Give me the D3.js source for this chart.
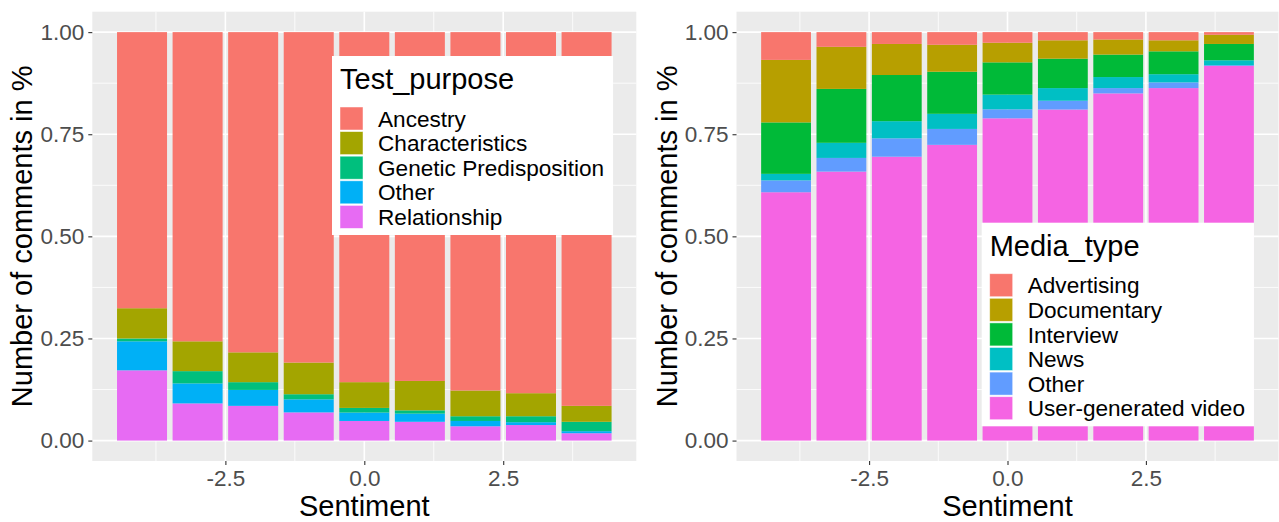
<!DOCTYPE html>
<html>
<head>
<meta charset="utf-8">
<script src="https://cdn.jsdelivr.net/npm/d3@7"></script>
<style>
  body { margin: 0; background: #fff; }
  svg { display: block; font-family: "Liberation Sans", Arial, sans-serif; }
</style>
</head>
<body>
<svg id="chart" width="1279" height="522"></svg>
<script>
// sentiment scores on the x axis
const sentiment = [-4, -3, -2, -1, 0, 1, 2, 3, 4]

// left panel: share of comments per test purpose
const testPurposes = ['Ancestry', 'Characteristics', 'Genetic Predisposition', 'Other', 'Relationship']
const tpAncestry = [0.676, 0.757, 0.784, 0.809, 0.857, 0.854, 0.8775, 0.884, 0.915]
const tpCharacteristics = [0.074, 0.073, 0.073, 0.0775, 0.063, 0.072, 0.063, 0.0564, 0.039]
const tpGenetic = [0.007, 0.030, 0.019, 0.0125, 0.0114, 0.008, 0.0116, 0.0146, 0.023]
const tpOther = [0.071, 0.049, 0.039, 0.032, 0.0206, 0.020, 0.013, 0.007, 0.005]
const tpRelationship = [0.172, 0.091, 0.085, 0.069, 0.048, 0.046, 0.035, 0.038, 0.018]
const tpColors = ['#F8766D', '#A3A500', '#00BF7D', '#00B0F6', '#E76BF3']

// right panel: share of comments per media type
const mediaTypes = ['Advertising', 'Documentary', 'Interview', 'News', 'Other', 'User-generated video']
const mtAdvertising = [0.068, 0.036, 0.029, 0.031, 0.026, 0.020, 0.018, 0.020, 0.0065]
const mtDocumentary = [0.153, 0.103, 0.076, 0.066, 0.048, 0.045, 0.037, 0.027, 0.0225]
const mtInterview = [0.126, 0.132, 0.113, 0.103, 0.079, 0.072, 0.055, 0.056, 0.040]
const mtNews = [0.016, 0.037, 0.042, 0.037, 0.036, 0.031, 0.027, 0.020, 0.012]
const mtOther = [0.029, 0.0335, 0.045, 0.039, 0.022, 0.0215, 0.013, 0.014, 0.002]
const mtUser = [0.608, 0.6585, 0.695, 0.724, 0.789, 0.8105, 0.850, 0.863, 0.918]
const mtColors = ['#F8766D', '#B79F00', '#00BA38', '#00BFC4', '#619CFF', '#F564E3']

// axis ticks
const yTicks = [0, 0.25, 0.5, 0.75, 1]
const yMinor = [0.125, 0.375, 0.625, 0.875]
const xTicks = [-2.5, 0, 2.5]
const xMinor = [-3.75, -1.25, 1.25, 3.75]

const svg = d3.select('#chart')

// build rows like position = "fill" in ggplot
function makeRows (keys, series) {
    return sentiment.map((s, i) => {
        const row = { sentiment: s }
        const total = d3.sum(series, arr => arr[i])
        keys.forEach((k, j) => { row[k] = series[j][i] / total })
        return row
    })
}

function drawPanel (opts) {
    const { left, right, top, bottom, keys, colors, rows, legendTitle, legendX, legendY } = opts
    const g = svg.append('g')

    const x = d3.scaleLinear().domain([-4.895, 4.895]).range([left, right])
    const y = d3.scaleLinear().domain([-0.05, 1.05]).range([bottom, top])
    const color = d3.scaleOrdinal().domain(keys).range(colors)

    // panel background + grid
    g.append('rect')
        .attr('x', left).attr('y', top)
        .attr('width', right - left).attr('height', bottom - top)
        .attr('fill', '#EBEBEB')

    g.selectAll('line.ymin').data(yMinor).join('line')
        .attr('x1', left).attr('x2', right)
        .attr('y1', d => y(d)).attr('y2', d => y(d))
        .attr('stroke', '#fff').attr('stroke-width', 0.8)
    g.selectAll('line.xmin').data(xMinor).join('line')
        .attr('y1', top).attr('y2', bottom)
        .attr('x1', d => x(d)).attr('x2', d => x(d))
        .attr('stroke', '#fff').attr('stroke-width', 0.8)
    g.selectAll('line.ymaj').data(yTicks).join('line')
        .attr('x1', left).attr('x2', right)
        .attr('y1', d => y(d)).attr('y2', d => y(d))
        .attr('stroke', '#fff').attr('stroke-width', 1.6)
    g.selectAll('line.xmaj').data(xTicks).join('line')
        .attr('y1', top).attr('y2', bottom)
        .attr('x1', d => x(d)).attr('x2', d => x(d))
        .attr('stroke', '#fff').attr('stroke-width', 1.6)

    // stacked bars, first level on top
    const stack = d3.stack().keys(keys.slice().reverse())
    const barW = x(0.45) - x(-0.45)
    g.selectAll('g.layer')
        .data(stack(rows))
        .join('g')
            .attr('fill', d => color(d.key))
        .selectAll('rect')
        .data(d => d)
        .join('rect')
            .attr('x', d => x(d.data.sentiment) - barW / 2)
            .attr('width', barW)
            .attr('y', d => y(d[1]))
            .attr('height', d => y(d[0]) - y(d[1]))

    // axes
    const yAxis = g.append('g')
        .attr('transform', `translate(${left},0)`)
        .call(d3.axisLeft(y).tickValues(yTicks).tickFormat(d3.format('.2f')).tickSize(4).tickPadding(4))
    const xAxis = g.append('g')
        .attr('transform', `translate(0,${bottom})`)
        .call(d3.axisBottom(x).tickValues(xTicks).tickFormat(d => d.toFixed(1)).tickSize(4).tickPadding(5))
    for (const ax of [yAxis, xAxis]) {
        ax.select('.domain').remove()
        ax.selectAll('line').attr('stroke', '#333333').attr('stroke-width', 1.1)
        ax.selectAll('text').attr('fill', '#4D4D4D').attr('font-size', 22.5)
            .attr('font-family', '"Liberation Sans", Arial, sans-serif')
    }

    // axis titles
    g.append('text')
        .attr('transform', `translate(${left - 60},${(top + bottom) / 2}) rotate(-90)`)
        .attr('text-anchor', 'middle')
        .attr('font-size', 29)
        .text('Number of comments in %')
    g.append('text')
        .attr('x', (left + right) / 2).attr('y', 516)
        .attr('text-anchor', 'middle')
        .attr('font-size', 29)
        .text('Sentiment')

    // legend
    const lg = g.append('g').attr('transform', `translate(${legendX},${legendY})`)
    const box = lg.append('rect').attr('fill', '#fff')
    lg.append('text').attr('x', 8).attr('y', 33).attr('font-size', 29).text(legendTitle)
    const step = 24.6
    const items = lg.selectAll('g.item').data(keys).join('g')
        .attr('transform', (d, i) => `translate(8,${51 + i * step})`)
    items.append('rect')
        .attr('width', 23).attr('height', 23)
        .attr('fill', d => color(d))
        .attr('stroke', '#fff').attr('stroke-opacity', 0.6).attr('stroke-width', 0.8)
    const labels = items.append('text')
        .attr('x', 38).attr('y', 11.5).attr('dy', '0.36em')
        .attr('font-size', 22.6)
        .text(d => d)
    const maxW = d3.max(labels.nodes(), n => n.getComputedTextLength())
    box.attr('width', 8 + 38 + maxW + 9).attr('height', 51 + keys.length * step + 5)
}

drawPanel({
    left: 92.3, right: 636.3, top: 11.7, bottom: 461,
    keys: testPurposes, colors: tpColors,
    rows: makeRows(testPurposes, [tpAncestry, tpCharacteristics, tpGenetic, tpOther, tpRelationship]),
    legendTitle: 'Test_purpose', legendX: 332, legendY: 56
})

drawPanel({
    left: 736.5, right: 1278.5, top: 11.7, bottom: 461,
    keys: mediaTypes, colors: mtColors,
    rows: makeRows(mediaTypes, [mtAdvertising, mtDocumentary, mtInterview, mtNews, mtOther, mtUser]),
    legendTitle: 'Media_type', legendX: 981.7, legendY: 222.7
})
</script>
</body>
</html>
